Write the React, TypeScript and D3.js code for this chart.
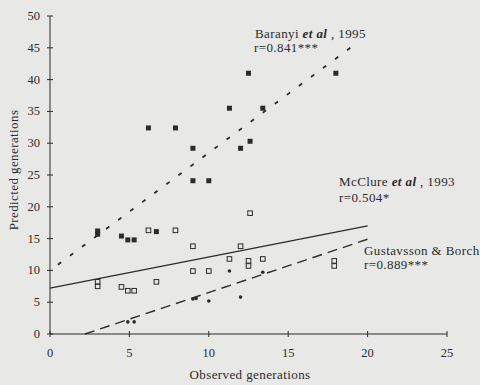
import React from "react";
import * as d3 from "d3";

// Baranyi et al 1995 (filled squares)
const baranyiObs = [3.0, 3.0, 4.5, 4.9, 5.3, 6.7, 6.2, 7.9, 9.0, 9.0, 10.0, 11.3, 12.0, 12.6, 12.5, 13.4, 18.0];
const baranyiPred = [16.2, 15.7, 15.4, 14.8, 14.8, 16.1, 32.4, 32.4, 29.2, 24.1, 24.1, 35.5, 29.2, 30.3, 41.0, 35.5, 41.0];

// McClure et al 1993 (open squares)
const mcclureObs = [3.0, 3.0, 4.5, 4.9, 5.3, 6.2, 6.7, 7.9, 9.0, 9.0, 10.0, 11.3, 12.0, 12.5, 12.5, 12.6, 13.4, 17.9, 17.9];
const mcclurePred = [8.2, 7.5, 7.4, 6.8, 6.8, 16.3, 8.2, 16.3, 13.8, 9.9, 9.9, 11.8, 13.8, 11.5, 10.7, 19.0, 11.8, 11.5, 10.7];

// Gustavsson & Borch (small dots)
const gustObs = [4.9, 5.3, 9.0, 9.2, 10.0, 11.3, 12.0, 13.4];
const gustPred = [1.9, 1.9, 5.5, 5.6, 5.2, 9.9, 5.8, 9.7];

// regression lines: [x start, x end], [y start, y end]
const baranyiFitX = [0.5, 19.4];
const baranyiFitY = [10.9, 45.9];
const mcclureFitX = [0, 20];
const mcclureFitY = [7.2, 17.0];
const gustFitX = [2.2, 20];
const gustFitY = [0, 14.9];

const xTicks = [0, 5, 10, 15, 20, 25];
const yTicks = [0, 5, 10, 15, 20, 25, 30, 35, 40, 45, 50];

const W = 480;
const H = 385;
const ink = "#2b2b2b";
const font = "'Liberation Serif', 'DejaVu Serif', serif";

export default function App() {
  const x = d3.scaleLinear().domain([0, 25]).range([50, 447]);
  const y = d3.scaleLinear().domain([0, 50]).range([334, 16]);
  const line = d3
    .line<[number, number]>()
    .x((d) => x(d[0]))
    .y((d) => y(d[1]));
  const pairs = (a: number[], b: number[]) => a.map((v, i) => [v, b[i]] as [number, number]);

  const note = { fontSize: 13, fill: ink, letterSpacing: 0.4 };

  return (
    <svg
      width={W}
      height={H}
      style={{ position: "absolute", left: 0, top: 0, background: "#e8e8e6" }}
      fontFamily={font}
    >
      <rect width={W} height={H} fill="#e8e8e6" />

      {/* axes */}
      <line x1={x(0)} x2={x(0)} y1={y(0)} y2={y(50)} stroke={ink} strokeWidth={1} />
      <line x1={x(0)} x2={x(25)} y1={y(0)} y2={y(0)} stroke={ink} strokeWidth={1} />
      {yTicks.map((t) => (
        <g key={"y" + t}>
          <line x1={x(0) - 3} x2={x(0) + 3} y1={y(t)} y2={y(t)} stroke={ink} />
          <text x={40} y={y(t) + 4} textAnchor="end" fontSize={12.5} fill={ink}>
            {t}
          </text>
        </g>
      ))}
      {xTicks.map((t) => (
        <g key={"x" + t}>
          <line x1={x(t)} x2={x(t)} y1={y(0) - 3} y2={y(0) + 3} stroke={ink} />
          <text x={x(t)} y={357} textAnchor="middle" fontSize={12.5} fill={ink}>
            {t}
          </text>
        </g>
      ))}
      <text x={250} y={379} textAnchor="middle" {...note}>
        Observed generations
      </text>
      <text transform="translate(18,170) rotate(-90)" textAnchor="middle" {...note}>
        Predicted generations
      </text>

      {/* fitted lines */}
      <path
        d={line(pairs(baranyiFitX, baranyiFitY)) || ""}
        stroke={ink}
        strokeWidth={1.8}
        strokeDasharray="4 11"
        fill="none"
      />
      <path d={line(pairs(mcclureFitX, mcclureFitY)) || ""} stroke={ink} strokeWidth={1.2} fill="none" />
      <path
        d={line(pairs(gustFitX, gustFitY)) || ""}
        stroke={ink}
        strokeWidth={1.4}
        strokeDasharray="10 6"
        fill="none"
      />

      {/* points */}
      {pairs(baranyiObs, baranyiPred).map((d, i) => (
        <rect key={"b" + i} x={x(d[0]) - 2.5} y={y(d[1]) - 2.5} width={5} height={5} fill={ink} />
      ))}
      {pairs(mcclureObs, mcclurePred).map((d, i) => (
        <rect
          key={"m" + i}
          x={x(d[0]) - 2.3}
          y={y(d[1]) - 2.3}
          width={4.6}
          height={4.6}
          fill="none"
          stroke={ink}
          strokeWidth={1}
        />
      ))}
      {pairs(gustObs, gustPred).map((d, i) => (
        <circle key={"g" + i} cx={x(d[0])} cy={y(d[1])} r={1.8} fill={ink} />
      ))}

      {/* annotations */}
      <text x={255} y={38} {...note}>
        Baranyi <tspan fontStyle="italic" fontWeight="bold">et al</tspan> , 1995
      </text>
      <text x={254} y={52} {...note}>
        r=0.841***
      </text>
      <text x={339} y={186} {...note}>
        McClure <tspan fontStyle="italic" fontWeight="bold">et al</tspan> , 1993
      </text>
      <text x={339} y={202} {...note}>
        r=0.504*
      </text>
      <text x={364} y={255} {...note}>
        Gustavsson &amp; Borch
      </text>
      <text x={364} y={269} {...note}>
        r=0.889***
      </text>
    </svg>
  );
}
